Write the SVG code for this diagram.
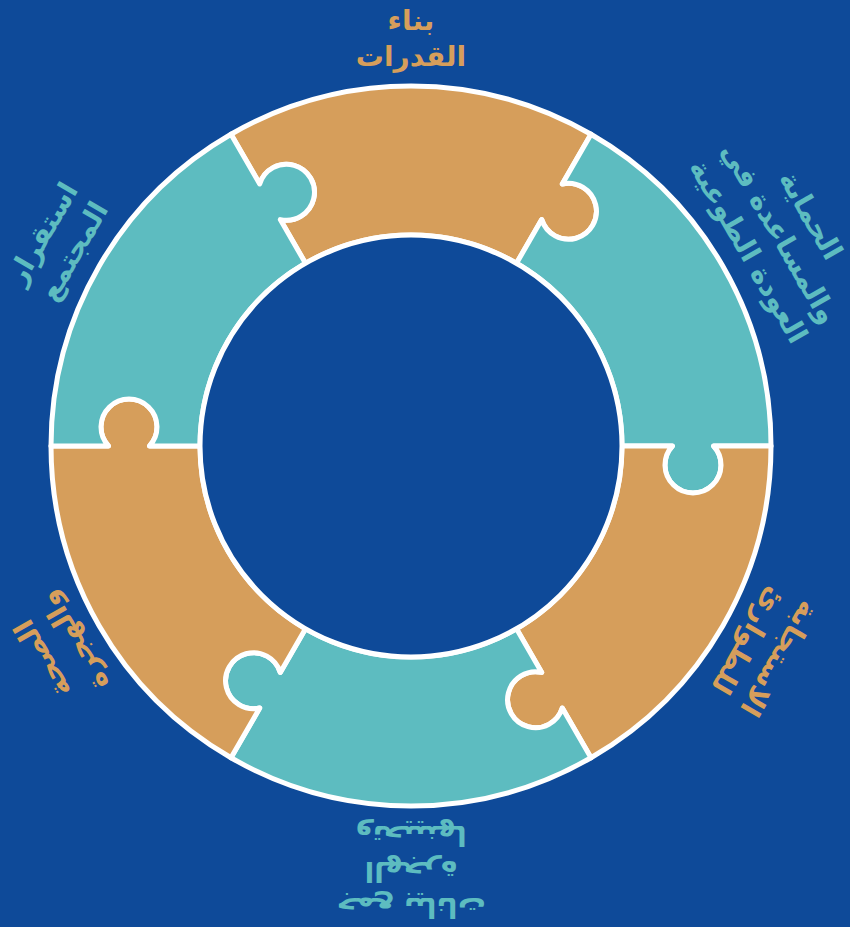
<svg xmlns="http://www.w3.org/2000/svg" width="850" height="927" viewBox="0 0 850 927">
  <style>
    .bg { fill: #0e4a99; }
    .piece { stroke: #ffffff; stroke-width: 5; stroke-linejoin: round; }
    .orange { fill: #d69e5b; }
    .teal { fill: #5dbcc0; }
    .label { font-family: "DejaVu Sans", sans-serif; font-size: 28px; font-weight: bold; text-anchor: middle; }
    .label.o { fill: #d69e5b; }
    .label.t { fill: #5dbcc0; }
  </style>

  <rect class="bg" x="0" y="0" width="850" height="927"/>

  <!-- Ring of six interlocking pieces, centre (411,446), radii 211 / 360 -->
  <g id="piece-capacity">
    <path class="piece orange" d="M 231 134.23 A 360 360 0 0 1 591 134.23 L 562.29 183.97 A 28 28 0 1 1 541.72 219.6 L 516.5 263.27 A 211 211 0 0 0 305.5 263.27 L 280.28 219.6 A 28 28 0 1 0 259.71 183.97 Z"/>
    <g class="label o" transform="translate(411 446)">
      <text x="0" y="-416">بناء</text>
      <text x="0" y="-380">القدرات</text>
    </g>
  </g>

  <g id="piece-protection">
    <path class="piece teal" d="M 591 134.23 A 360 360 0 0 1 771 446 L 713.57 446 A 28 28 0 1 1 672.43 446 L 622 446 A 211 211 0 0 0 516.5 263.27 L 541.72 219.6 A 28 28 0 1 0 562.29 183.97 Z"/>
    <g class="label t" transform="translate(411 446) rotate(60)">
      <text x="0" y="-452">الحماية</text>
      <text x="0" y="-416">والمساعدة في</text>
      <text x="0" y="-380">العودة الطوعية</text>
    </g>
  </g>

  <g id="piece-emergency">
    <path class="piece orange" d="M 771 446 A 360 360 0 0 1 591 757.77 L 562.29 708.03 A 28 28 0 1 1 541.72 672.4 L 516.5 628.73 A 211 211 0 0 0 622 446 L 672.43 446 A 28 28 0 1 0 713.57 446 Z"/>
    <g class="label o" transform="translate(411 446) rotate(120)">
      <text x="0" y="-416">الاستجابة</text>
      <text x="0" y="-380">للطوارئ</text>
    </g>
  </g>

  <g id="piece-data">
    <path class="piece teal" d="M 591 757.77 A 360 360 0 0 1 231 757.77 L 259.71 708.03 A 28 28 0 1 1 280.28 672.4 L 305.5 628.73 A 211 211 0 0 0 516.5 628.73 L 541.72 672.4 A 28 28 0 1 0 562.29 708.03 Z"/>
    <g class="label t" transform="translate(411 446) rotate(180)">
      <text x="0" y="-452">جمع بيانات</text>
      <text x="0" y="-416">الهجرة</text>
      <text x="0" y="-380">وتحيينها</text>
    </g>
  </g>

  <g id="piece-health">
    <path class="piece orange" d="M 231 757.77 A 360 360 0 0 1 51 446 L 108.43 446 A 28 28 0 1 1 149.57 446 L 200 446 A 211 211 0 0 0 305.5 628.73 L 280.28 672.4 A 28 28 0 1 0 259.71 708.03 Z"/>
    <g class="label o" transform="translate(411 446) rotate(240)">
      <text x="0" y="-416">الصحة</text>
      <text x="0" y="-380">والهجرة</text>
    </g>
  </g>

  <g id="piece-stabilization">
    <path class="piece teal" d="M 51 446 A 360 360 0 0 1 231 134.23 L 259.71 183.97 A 28 28 0 1 1 280.28 219.6 L 305.5 263.27 A 211 211 0 0 0 200 446 L 149.57 446 A 28 28 0 1 0 108.43 446 Z"/>
    <g class="label t" transform="translate(411 446) rotate(300)">
      <text x="0" y="-416">استقرار</text>
      <text x="0" y="-380">المجتمع</text>
    </g>
  </g>

  <!-- open centre -->
  <circle id="centre" cx="411" cy="446" r="211" class="bg" stroke="#ffffff" stroke-width="5"/>
</svg>
